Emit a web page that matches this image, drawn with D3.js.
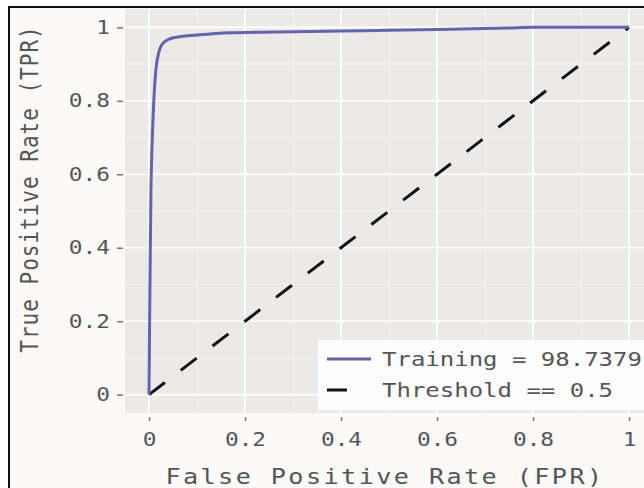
<!DOCTYPE html>
<html>
<head>
<meta charset="utf-8">
<script src="https://cdn.jsdelivr.net/npm/d3@7"></script>
<style>
  body { margin: 0; background: #fff; }
  svg { display: block; }
  text { font-family: "DejaVu Sans Mono", monospace; fill: #555; }
</style>
</head>
<body>
<div id="chart"></div>
<script>
// ROC curve
const fpr = [0, 0.002, 0.004, 0.007, 0.01, 0.014, 0.02, 0.028, 0.04, 0.06, 0.1, 0.17, 0.3, 0.45, 0.6, 0.75, 0.8, 1]
const tpr = [0, 0.3, 0.55, 0.7, 0.8, 0.88, 0.93, 0.955, 0.967, 0.974, 0.979, 0.985, 0.988, 0.991, 0.994, 0.998, 1, 1]
const threshold = [[0, 0], [1, 1]]
const ticks = [0, 0.2, 0.4, 0.6, 0.8, 1]
const tickLabels = ["0", "0.2", "0.4", "0.6", "0.8", "1"]
const minorTicks = [0.1, 0.3, 0.5, 0.7, 0.9]
const legendLabels = ["Training = 98.7379", "Threshold == 0.5"]

const W = 644, H = 488
const panel = { left: 125, top: 9, right: 653, bottom: 413 }
const SX = 1.2 // the picture's glyphs are a bit wide

const svg = d3.select("#chart").append("svg")
  .attr("width", W)
  .attr("height", H)

// outer frame
svg.append("rect")
  .attr("x", 9).attr("y", 7)
  .attr("width", W).attr("height", H)
  .attr("fill", "#fbfaf9")
  .attr("stroke", "#111")
  .attr("stroke-width", 2)

const x = d3.scaleLinear().domain([-0.05, 1.05]).range([panel.left, panel.right])
const y = d3.scaleLinear().domain([-0.05, 1.05]).range([panel.bottom, panel.top])

svg.append("rect")
  .attr("x", panel.left).attr("y", panel.top)
  .attr("width", panel.right - panel.left)
  .attr("height", panel.bottom - panel.top)
  .attr("fill", "#eceae8")

// grid
const grid = svg.append("g")
minorTicks.forEach(t => {
  grid.append("line")
    .attr("x1", x(t)).attr("x2", x(t)).attr("y1", panel.top).attr("y2", panel.bottom)
    .attr("stroke", "#f6f5f4").attr("stroke-width", 0.8)
  grid.append("line")
    .attr("y1", y(t)).attr("y2", y(t)).attr("x1", panel.left).attr("x2", panel.right)
    .attr("stroke", "#f6f5f4").attr("stroke-width", 0.8)
})
ticks.forEach(t => {
  grid.append("line")
    .attr("x1", x(t)).attr("x2", x(t)).attr("y1", panel.top).attr("y2", panel.bottom)
    .attr("stroke", "#fff").attr("stroke-width", 1.6)
  grid.append("line")
    .attr("y1", y(t)).attr("y2", y(t)).attr("x1", panel.left).attr("x2", panel.right)
    .attr("stroke", "#fff").attr("stroke-width", 1.6)
})

// axes
const xAxis = d3.axisBottom(x).tickValues(ticks)
  .tickFormat((d, i) => tickLabels[i]).tickSize(4).tickPadding(12)
const yAxis = d3.axisLeft(y).tickValues(ticks)
  .tickFormat((d, i) => tickLabels[i]).tickSize(6).tickPadding(4)

const gx = svg.append("g").attr("transform", `translate(0,${panel.bottom + 4})`).call(xAxis)
const gy = svg.append("g").attr("transform", `translate(${panel.left - 2},0)`).call(yAxis)
;[gx, gy].forEach(g => {
  g.select(".domain").remove()
  g.selectAll(".tick line").attr("stroke", "#777").attr("stroke-width", 1.5)
  g.selectAll(".tick text")
    .style("font-family", "DejaVu Sans Mono")
    .style("font-size", "19px")
    .attr("fill", "#555")
    .attr("transform", `scale(${SX},1)`)
})
gy.selectAll(".tick text").attr("x", -13 / SX)

// curves
const line = d3.line().x(d => x(d[0])).y(d => y(d[1]))
svg.append("path")
  .datum(threshold)
  .attr("d", line)
  .attr("fill", "none")
  .attr("stroke", "#111")
  .attr("stroke-width", 3)
  .attr("stroke-dasharray", "20,20")

svg.append("path")
  .datum(fpr.map((f, i) => [f, tpr[i]]))
  .attr("d", line.curve(d3.curveMonotoneX))
  .attr("fill", "none")
  .attr("stroke", "#6464aa")
  .attr("stroke-width", 3)
  .attr("stroke-linejoin", "round")

// legend
const lg = svg.append("g").attr("transform", "translate(318,340)")
lg.append("rect")
  .attr("width", 340).attr("height", 70)
  .attr("fill", "#fdfdfd")
const styles = [
  { stroke: "#6464aa", dash: null, len: 44 },
  { stroke: "#111", dash: "20,20", len: 40 }
]
legendLabels.forEach((label, i) => {
  const yy = 19 + i * 31
  lg.append("line")
    .attr("x1", 9).attr("x2", 9 + styles[i].len).attr("y1", yy).attr("y2", yy)
    .attr("stroke", styles[i].stroke)
    .attr("stroke-width", 3)
    .attr("stroke-dasharray", styles[i].dash)
  lg.append("text")
    .attr("x", 64 / SX).attr("y", yy + 7)
    .attr("transform", `scale(${SX},1)`)
    .style("font-size", "20px")
    .text(label)
})

// titles
svg.append("text")
  .attr("x", 385 / SX)
  .attr("y", 484)
  .attr("transform", `scale(${SX},1)`)
  .attr("text-anchor", "middle")
  .style("font-size", "21px")
  .style("letter-spacing", "2px")
  .text("False Positive Rate (FPR)")

svg.append("text")
  .attr("transform", `translate(38,${(y(0) + y(1)) / 2 - 22}) scale(${SX},1) rotate(-90)`)
  .attr("text-anchor", "middle")
  .style("font-size", "21px")
  .style("letter-spacing", "1px")
  .text("True Positive Rate (TPR)")
</script>
</body>
</html>
